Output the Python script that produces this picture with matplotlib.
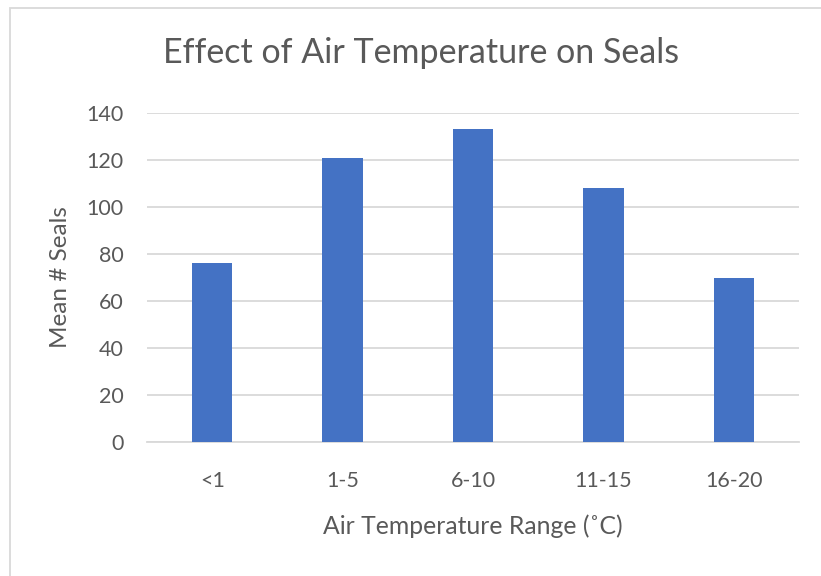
import matplotlib.pyplot as plt
from matplotlib.patches import Rectangle

plt.rcParams['font.family'] = ['Lato', 'DejaVu Sans']

ranges = ['<1', '1-5', '6-10', '11-15', '16-20']
mean_seals = [76, 121, 133, 108, 70]
y_ticks = [0, 20, 40, 60, 80, 100, 120, 140]

text_color = '#595959'
grid_color = '#D9D9D9'

fig = plt.figure(figsize=(8.21, 5.76), dpi=100)
ax = fig.add_axes([147 / 821, 134 / 576, 652 / 821, 329 / 576])

ax.bar(range(len(ranges)), mean_seals, width=0.31, color='#4472C4', zorder=3)

ax.set_xlim(-0.5, len(ranges) - 0.5)
ax.set_ylim(0, 140)
ax.set_yticks(y_ticks)
ax.set_xticks(range(len(ranges)))
ax.set_xticklabels(ranges)
ax.yaxis.grid(True, color=grid_color, linewidth=1.3, zorder=0)
ax.tick_params(axis='both', length=0, labelsize=15.5, colors=text_color)
ax.tick_params(axis='y', pad=17)
ax.tick_params(axis='x', pad=21)
for side in ['top', 'right', 'left']:
    ax.spines[side].set_visible(False)
ax.spines['bottom'].set_color(grid_color)
ax.spines['bottom'].set_linewidth(1.3)

ax.set_ylabel('Mean # Seals', fontsize=17.5, color=text_color, labelpad=11)
ax.set_xlabel('Air Temperature Range (˚C)', fontsize=17.8, color=text_color, labelpad=17)

fig.text(421 / 821, 1 - 53 / 576, 'Effect of Air Temperature on Seals',
         ha='center', va='center', fontsize=24.5, color=text_color)

# light frame around the chart area
fig.patches.append(Rectangle((10 / 821, -0.05), 1.0, 1 - 8 / 576 + 0.05,
                             transform=fig.transFigure, fill=False,
                             edgecolor=grid_color, linewidth=1.3))

fig.savefig('out.png', dpi=100)
